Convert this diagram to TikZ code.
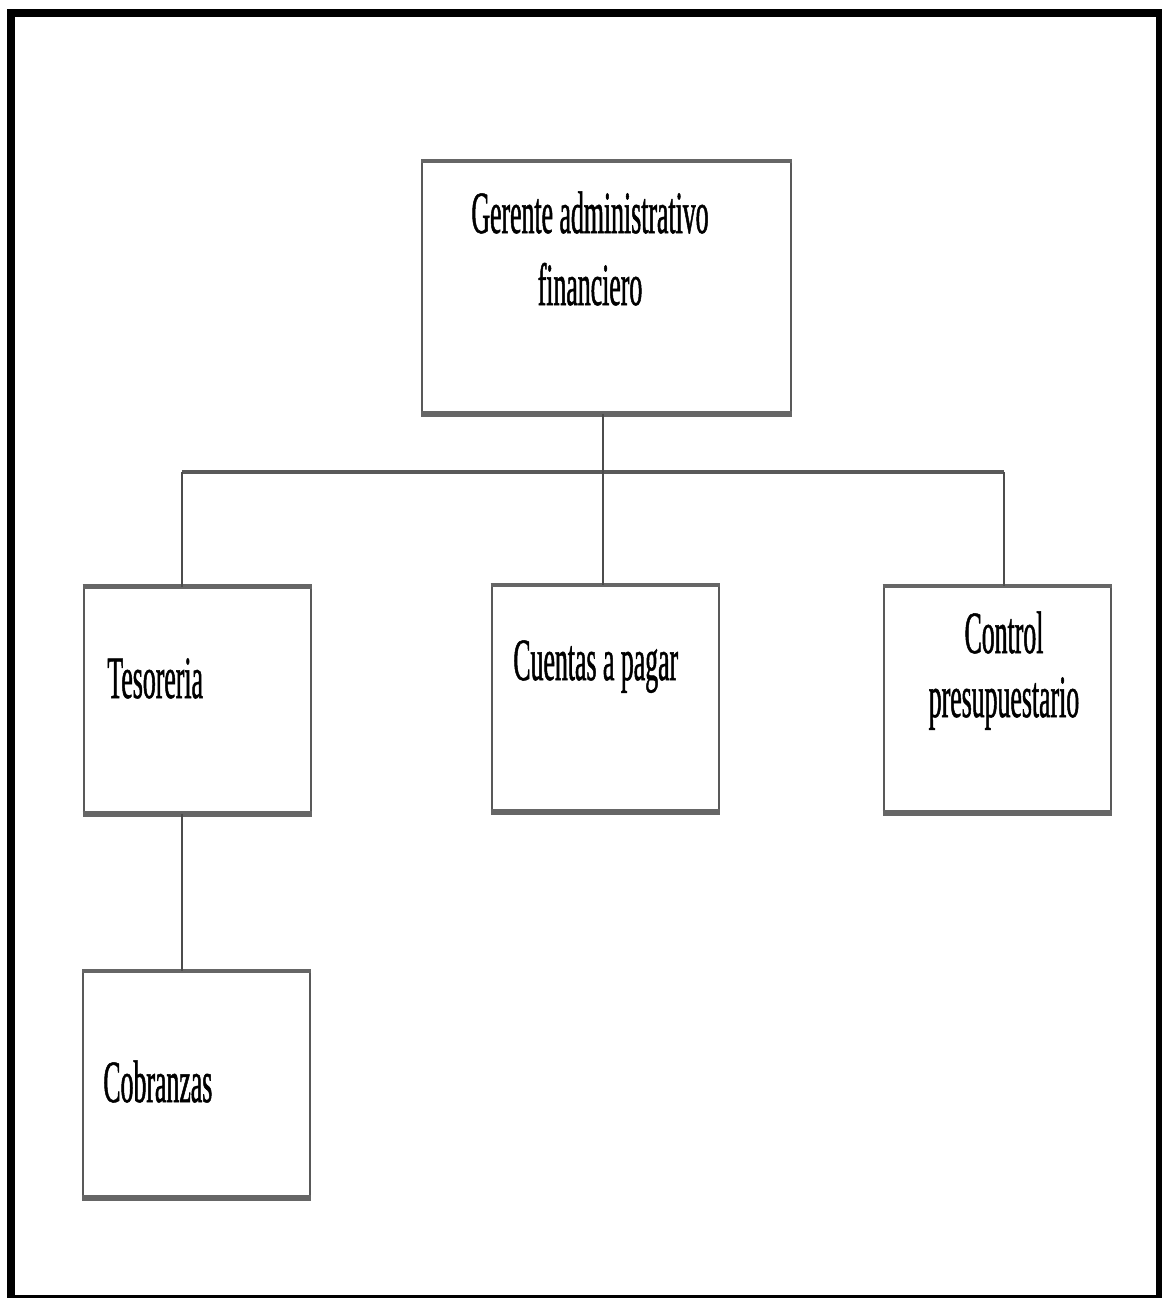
\documentclass[tikz,border=0pt]{standalone}
\usepackage{fontspec}
\newfontfamily\orgfont[FakeStretch = 0.43, FakeBold = 0.8]{Liberation Serif}
\usepackage{tikz}

\begin{document}
\begin{tikzpicture}[x = 0.5pt, y = -0.5pt,
  box/.style = {draw = black!65, line width = 1pt, minimum width = 113.5pt, minimum height = 112.5pt, inner sep = 0pt},
  rim/.style = {draw = black!60, line width = 2.2pt},
  link/.style = {draw = black!70, line width = 1pt},
  bus/.style = {draw = black!65, line width = 2pt},
  label/.style = {font = \orgfont\fontsize{30pt}{36pt}\selectfont, inner sep = 0pt}]
\useasboundingbox (0, 0) rectangle (1162, 1298);
\draw[line width = 4pt] (11, 13) rectangle (1160, 1299);
\node[box, minimum width = 184.5pt, minimum height = 125.5pt] (gerente) at (606.5, 287.5) {};
\node[box] (tesoreria) at (197, 700) {};
\node[box] (cuentas) at (605, 698.5) {};
\node[box] (control) at (997, 699.5) {};
\node[box] (cobranzas) at (196.5, 1084.5) {};
\foreach \n in {gerente, tesoreria, cuentas, control, cobranzas}{
  \draw[rim] (\n.north west) -- (\n.north east);
  \draw[rim, line width = 3pt] (\n.south west) -- (\n.south east);
}
\coordinate (busL) at (182, 472);
\coordinate (busM) at (603, 472);
\coordinate (busR) at (1004, 472);
\draw[bus] (busL) -- (busR);
\draw[link] (busM |- gerente.south) -- (busM |- cuentas.north);
\draw[link] (busL) -- (busL |- tesoreria.north);
\draw[link] (busR) -- (busR |- control.north);
\draw[link] (busL |- tesoreria.south) -- (busL |- cobranzas.north);
\node[label, anchor = base, align = center] (gerente-text) at (590, 305) {Gerente administrativo\\financiero};
\node[label, anchor = base west] (tesoreria-text) at (107, 698) {Tesoreria};
\node[label, anchor = base west] (cuentas-text) at (513, 680) {Cuentas a pagar};
\node[label, anchor = base, align = center, font = \orgfont\fontsize{30pt}{32pt}\selectfont] (control-text) at (1004, 717) {Control\\presupuestario};
\node[label, anchor = base west] (cobranzas-text) at (103, 1102) {Cobranzas};
\end{tikzpicture}
\end{document}
